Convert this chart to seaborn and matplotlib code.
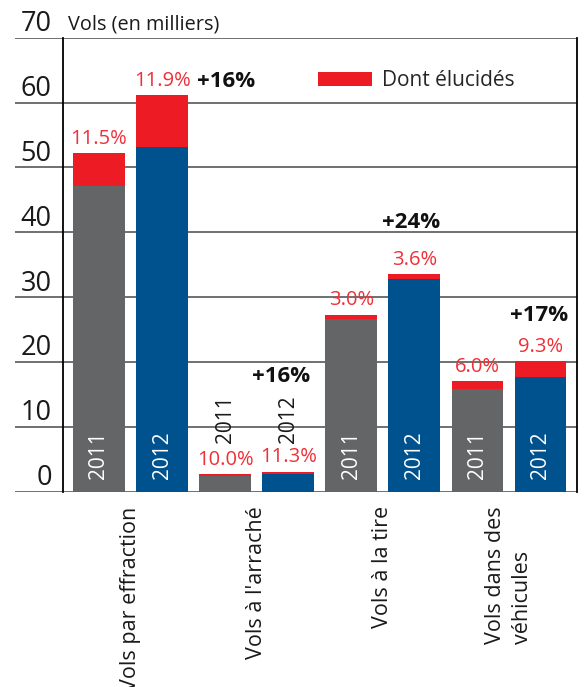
import pandas as pd
import matplotlib.pyplot as plt
import seaborn as sns
from matplotlib.patches import Patch

# données (en milliers)
categories = ["Vols par effraction", "Vols à l'arraché", "Vols à la tire", "Vols dans des\nvéhicules"]
years = ["2011", "2012"]
total = [52.2, 61.2, 2.7, 3.1, 27.3, 33.5, 17.0, 20.1]
non_elucides = [47.2, 53.2, 2.4, 2.7, 26.6, 32.8, 15.9, 17.7]
pct_labels = ["11.5%", "11.9%", "10.0%", "11.3%", "3.0%", "3.6%", "6.0%", "9.3%"]
growth_labels = ["+16%", "+16%", "+24%", "+17%"]
growth_x = [2.01, 2.89, 4.95, 6.98]
growth_y = [63.3, 17.7, 41.5, 27.1]
yticks = [0, 10, 20, 30, 40, 50, 60, 70]

GRAY = '#646567'
BLUE = '#00528f'
RED = '#ed1c24'
RED_TXT = '#ef3038'

sns.set_style('white')
plt.rcParams['font.family'] = ['Open Sans', 'DejaVu Sans']

bars = [f"{c} {y}" for c in categories for y in years]
df = pd.DataFrame({
	'bar': bars,
	'year': [y for c in categories for y in years],
	'total': total,
	'base': non_elucides,
})

fig = plt.figure(figsize=(5.85, 6.87), dpi=100)
ax = fig.add_axes([0.0256, 0.2843, 0.9602, 0.6608])

sns.barplot(data=df, x='bar', y='total', order=bars, color=RED, saturation=1,
			width=0.82, errorbar=None, linewidth=0, ax=ax)
sns.barplot(data=df, x='bar', y='base', order=bars, hue='year', palette={'2011': GRAY, '2012': BLUE},
			saturation=1, dodge=False, width=0.82, errorbar=None, legend=False, linewidth=0, ax=ax)

ax.set_xlim(-1.332, 7.574)
ax.set_ylim(0, 70)
ax.set_xlabel('')
ax.set_ylabel('')

# grille + cadre
ax.set_yticks(yticks)
ax.yaxis.grid(True, color='#707070', lw=1.4)
ax.set_axisbelow(True)
for gl in ax.get_ygridlines():
	gl.set_clip_on(False)
ax.tick_params(axis='y', left=False, labelleft=False)
for s in ['top', 'bottom']:
	ax.spines[s].set_visible(False)
ax.spines['left'].set_position(('data', -0.576))
ax.spines['left'].set_color('black')
ax.spines['left'].set_linewidth(1.3)
ax.spines['right'].set_color('black')
ax.spines['right'].set_linewidth(1.3)

for v in yticks:
	ax.text(-0.75, v + 1.0, str(v), ha='right', va='baseline', fontsize=19.5, color='#1a1a1a')
ax.text(-0.49, 71.3, "Vols (en milliers)", ha='left', va='baseline', fontsize=14.3, color='#1a1a1a')

# axe x
ax.set_xticks([0.5, 2.5, 4.5, 6.5])
ax.set_xticklabels(categories, rotation=90, va='top', ha='center', multialignment='left',
				   linespacing=1.35, fontsize=15.5, color='#1a1a1a')
ax.tick_params(axis='x', bottom=False, pad=7)

# étiquettes
for i in range(len(bars)):
	ax.text(i, total[i] + 2.2, pct_labels[i], ha='center', va='center', fontsize=14.5, color=RED_TXT)
	yr = years[i % 2]
	if total[i] > 10:
		ax.text(i, 2.0, yr, rotation=90, ha='center', va='bottom', fontsize=15, color='white')
	else:
		ax.text(i, 7.5, yr, rotation=90, ha='center', va='bottom', fontsize=15, color='#1a1a1a')

for gx, gy, lab in zip(growth_x, growth_y, growth_labels):
	ax.text(gx, gy, lab, ha='center', va='center', fontsize=16, fontweight='bold', color='#111111')

ax.legend(handles=[Patch(facecolor=RED, edgecolor='none', label='Dont élucidés')],
		  loc='center left', bbox_to_anchor=(307.7 / 585, 1 - 80.8 / 687), bbox_transform=fig.transFigure,
		  frameon=False, borderpad=0, handlelength=2.6, handleheight=0.6, handletextpad=0.45, fontsize=15)

fig.savefig('out.png', dpi=100)
